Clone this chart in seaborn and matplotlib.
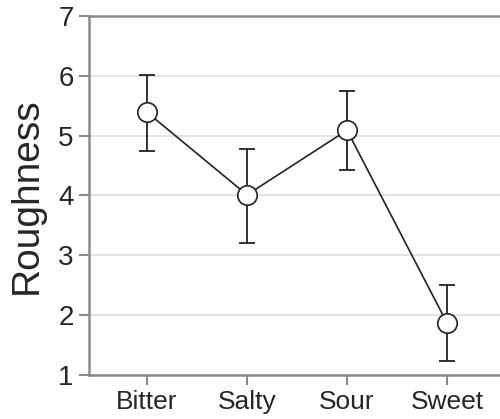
import pandas as pd
import matplotlib.pyplot as plt
import seaborn as sns

sns.set_style("white")
plt.rcParams['font.family'] = ['Liberation Sans', 'DejaVu Sans']

tastes = ['Bitter', 'Salty', 'Sour', 'Sweet']
roughness = [5.39, 4.01, 5.09, 1.87]
err_low = [4.74, 3.20, 4.43, 1.23]
err_high = [6.01, 4.77, 5.75, 2.50]

df = pd.DataFrame({'Taste': tastes, 'Roughness': roughness})

fig = plt.figure(figsize=(5, 4.19), dpi=100)
ax = fig.add_axes([0.178, 0.105, 0.822, 0.857])

# error bars first so the markers sit on top
yerr = [[m - lo for m, lo in zip(roughness, err_low)],
        [hi - m for m, hi in zip(roughness, err_high)]]
ax.errorbar(range(len(tastes)), roughness, yerr=yerr, fmt='none',
            ecolor='#222222', elinewidth=1.3, capsize=6, capthick=1.3, zorder=2)

sns.pointplot(data=df, x='Taste', y='Roughness', order=tastes, errorbar=None,
              color='#222222', linewidth=1.2, markers='o', markersize=14,
              markerfacecolor='white', markeredgecolor='#222222',
              markeredgewidth=1.2, ax=ax, zorder=3)
for coll in ax.lines:
    coll.set_zorder(3)

ax.set_ylim(1, 7)
ax.set_xlim(-0.58, 3.53)
ax.set_yticks(range(1, 8))
ax.yaxis.grid(True, color='#e3e3e3', linewidth=1.4)
ax.set_axisbelow(True)

for side in ['left', 'bottom', 'top']:
    ax.spines[side].set_visible(True)
    ax.spines[side].set_color('#8a8a8a')
    ax.spines[side].set_linewidth(1.8)
ax.spines['right'].set_visible(False)

ax.tick_params(axis='both', which='both', direction='out', length=7,
               width=1.5, color='#8a8a8a', labelsize=19, pad=4,
               left=True, bottom=True)
ax.tick_params(axis='y', labelsize=20)
ax.set_xlabel('')
ax.set_ylabel('Roughness', fontsize=28, labelpad=10)

fig.savefig('out.png', dpi=100)
